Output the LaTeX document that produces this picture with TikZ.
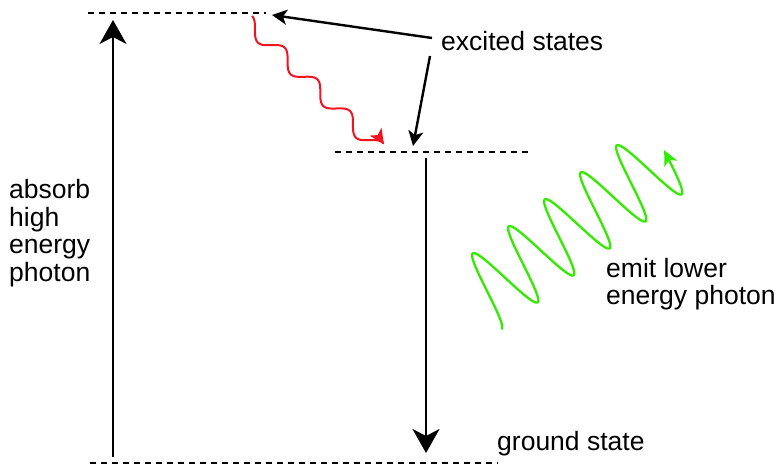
\documentclass[tikz,border=0pt]{standalone}
\usepackage{fontspec}
\setmainfont{Liberation Sans}
\usetikzlibrary{arrows.meta}
\definecolor{relaxred}{RGB}{240,20,30}
\definecolor{photongreen}{RGB}{50,235,0}

\begin{document}
\begin{tikzpicture}[x=1pt, y=-1pt, >=Stealth,
    levelline/.style={line width=2.3pt, dash pattern=on 6pt off 5pt},
    jump/.style={line width=2.4pt, -{Stealth[length=24pt, width=27pt, inset=7pt]}},
    pointer/.style={line width=2.4pt, -{Stealth[length=15pt, width=15pt, inset=4pt]}},
    redwave/.style={relaxred, line width=2pt, -{Stealth[length=15pt, width=14pt, inset=4pt]}},
    greenwave/.style={photongreen, line width=2.3pt, -{Stealth[length=15pt, width=14pt, inset=4pt]}},
    lbl/.style={inner sep=0pt, align=left, font=\fontsize{26.5}{27.5}\selectfont}]
    \useasboundingbox (0,0) rectangle (778,468);

    % energy levels
    \coordinate (topL) at (88,13);
    \coordinate (topR) at (266,13);
    \coordinate (midL) at (335,152);
    \coordinate (midR) at (528,152);
    \coordinate (gndL) at (90,463);
    \coordinate (gndR) at (498,463);
    \draw[levelline] (topL) -- (topR);
    \draw[levelline] (midL) -- (midR);
    \draw[levelline] (gndL) -- (gndR);

    % transitions
    \coordinate (upFrom) at (113,457);
    \coordinate (upTo) at (113,20);
    \coordinate (downFrom) at (426,158);
    \coordinate (downTo) at (426,453);
    \draw[jump] (upFrom) -- (upTo);
    \draw[jump] (downFrom) -- (downTo);

    % labels
    \node[lbl, anchor=west] (absorb) at (9,233) {absorb\\high\\energy\\photon};
    \node[lbl, anchor=west] (excited) at (441,41) {excited states};
    \node[lbl, anchor=west] (emit) at (606,284) {emit lower\\energy photon};
    \node[lbl, anchor=west] (ground) at (497,444) {ground state};

    \coordinate (hitTop) at (272,15);
    \coordinate (hitMid) at (413,146);
    \draw[pointer] ([shift={(-9,-3)}]excited.west) -- (hitTop);
    \draw[pointer] ([shift={(-11,15)}]excited.west) -- (hitMid);

    % photons
    \draw[redwave] plot[domain=0:184, samples=200]
        ({252+0.718*\x-0.696*7.5*(1-cos(7.912*\x))},
         {16+0.696*\x+0.718*7.5*(1-cos(7.912*\x))});
    \draw[greenwave] plot[domain=-33.5:204, samples=300]
        ({505+0.8*\x-0.6*39*cos(8*(\x+11))},
         {278-0.6*\x-0.8*39*cos(8*(\x+11))});
\end{tikzpicture}
\end{document}
